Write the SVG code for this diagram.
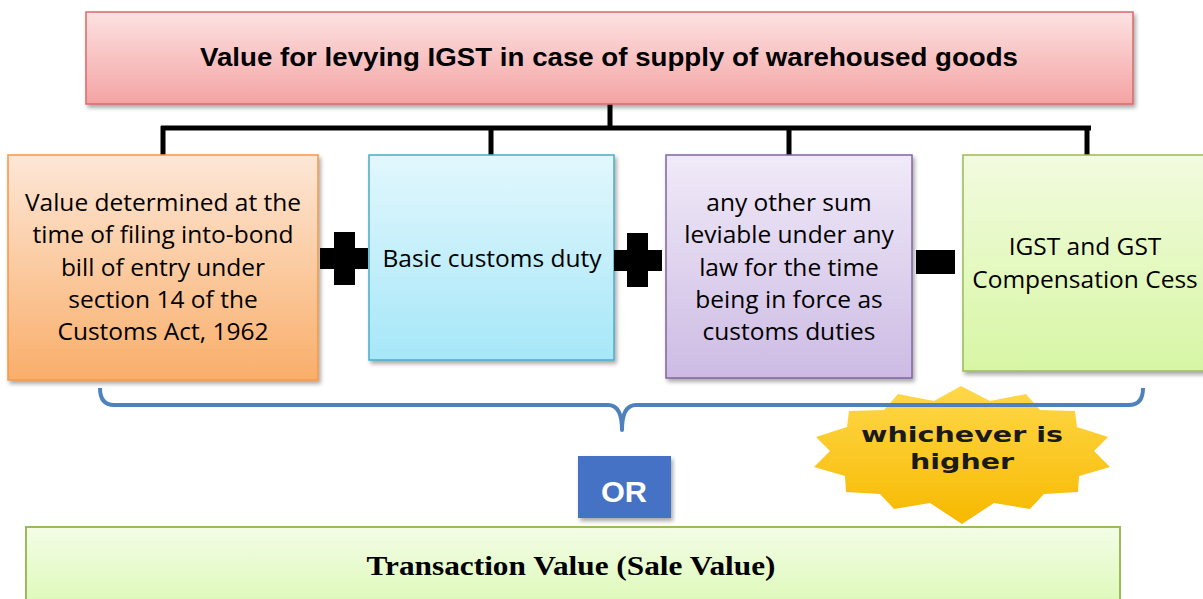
<svg xmlns="http://www.w3.org/2000/svg" width="1203" height="599" viewBox="0 0 1203 599">
<style>
.t{font-family:"Open Sans","Liberation Sans",Arial,sans-serif;font-size:24.5px;fill:#000;text-anchor:middle}
.title{font-family:"Liberation Sans",Arial,sans-serif;font-size:25px;font-weight:bold;fill:#000;text-anchor:middle}
.star{font-family:"DejaVu Sans",Verdana,sans-serif;font-size:22px;font-weight:bold;fill:#1a1a1a;text-anchor:middle}
.or{font-family:"Liberation Sans",Arial,sans-serif;font-size:29px;font-weight:bold;fill:#fff;text-anchor:middle}
.tv{font-family:"Liberation Serif","Times New Roman",serif;font-size:27px;font-weight:bold;fill:#000;text-anchor:middle}
.conn{stroke:#000;stroke-width:5;fill:none}
.op{fill:#000}
</style>
<defs>
<filter id="sh" x="-5%" y="-5%" width="110%" height="115%">
<feDropShadow dx="2" dy="3" stdDeviation="2" flood-color="#000" flood-opacity="0.35"/>
</filter>
<linearGradient id="gRed" x1="0" y1="0" x2="0" y2="1"><stop offset="0" stop-color="#fde2e2"/><stop offset="1" stop-color="#f4a3a3"/></linearGradient>
<linearGradient id="gOr" x1="0" y1="0" x2="0" y2="1"><stop offset="0" stop-color="#fde7d7"/><stop offset="1" stop-color="#f9ae6a"/></linearGradient>
<linearGradient id="gCy" x1="0" y1="0" x2="0" y2="1"><stop offset="0" stop-color="#e2f7fd"/><stop offset="1" stop-color="#a6e7f8"/></linearGradient>
<linearGradient id="gPu" x1="0" y1="0" x2="0" y2="1"><stop offset="0" stop-color="#f0eaf8"/><stop offset="1" stop-color="#cdbbe4"/></linearGradient>
<linearGradient id="gGr" x1="0" y1="0" x2="0" y2="1"><stop offset="0" stop-color="#f2fbdf"/><stop offset="1" stop-color="#d7f6a4"/></linearGradient>
<linearGradient id="gTv" x1="0" y1="0" x2="0" y2="1"><stop offset="0" stop-color="#f3fde6"/><stop offset="1" stop-color="#ddf9b8"/></linearGradient>
<linearGradient id="gSt" x1="0" y1="0" x2="0" y2="1"><stop offset="0" stop-color="#ffd84a"/><stop offset="1" stop-color="#f7b900"/></linearGradient>
</defs>

<g id="connectors">
<path class="conn" d="M610 104 V128 M161 128 H1091 M163 126 V156 M491 126 V156 M789 126 V156 M1087 126 V156"/>
</g>

<g id="title">
<rect x="86" y="12" width="1047" height="92" fill="url(#gRed)" stroke="#d96a6a" stroke-width="1.5" filter="url(#sh)"/>
<text class="title" x="609" y="66" textLength="818" lengthAdjust="spacingAndGlyphs">Value for levying IGST  in case of  supply of warehoused goods</text>
</g>

<g id="box-value">
<rect x="8" y="155" width="310" height="225" fill="url(#gOr)" stroke="#f79646" stroke-width="1.5" filter="url(#sh)"/>
<text class="t" x="163" y="211">Value determined at the</text>
<text class="t" x="163" y="243">time of filing into-bond</text>
<text class="t" x="163" y="276">bill of entry under</text>
<text class="t" x="163" y="308">section 14 of the</text>
<text class="t" x="163" y="340">Customs Act, 1962</text>
</g>

<g id="box-bcd">
<rect x="369" y="155" width="245" height="205" fill="url(#gCy)" stroke="#4bacc6" stroke-width="1.5" filter="url(#sh)"/>
<text class="t" x="492" y="267">Basic customs duty</text>
</g>

<g id="box-other">
<rect x="666" y="155" width="246" height="223" fill="url(#gPu)" stroke="#8064a2" stroke-width="1.5" filter="url(#sh)"/>
<text class="t" x="789" y="211">any other sum</text>
<text class="t" x="789" y="243">leviable under any</text>
<text class="t" x="789" y="276">law for the time</text>
<text class="t" x="789" y="308">being in force as</text>
<text class="t" x="789" y="340">customs duties</text>
</g>

<g id="box-igst">
<rect x="963" y="155" width="250" height="216" fill="url(#gGr)" stroke="#9bbb59" stroke-width="1.5" filter="url(#sh)"/>
<text class="t" x="1085" y="255">IGST and GST</text>
<text class="t" x="1085" y="288">Compensation Cess</text>
</g>

<g id="op-plus1">
<rect class="op" x="320" y="248" width="48" height="21"/>
<rect class="op" x="334" y="232" width="21" height="53"/>
</g>
<g id="op-plus2">
<rect class="op" x="614" y="250" width="48" height="21"/>
<rect class="op" x="627" y="233" width="21" height="54"/>
</g>
<g id="op-minus">
<rect class="op" x="916" y="250" width="39" height="24"/>
</g>

<g id="badge">
<polygon fill="url(#gSt)" points="961,386 990,401 1026,394 1040,410 1075,411 1077,427 1108,437 1094,451 1110,467 1079,476 1078,492 1044,494 1030,509 994,503 962,524 930,503 894,509 880,494 846,492 845,476 814,467 830,451 816,437 847,427 849,411 884,410 898,394 934,401"/>
<text class="star" x="962" y="442" textLength="202" lengthAdjust="spacingAndGlyphs">whichever is</text>
<text class="star" x="962" y="469" textLength="104" lengthAdjust="spacingAndGlyphs">higher</text>
</g>

<g id="bracket">
<path d="M100 388 Q100 405 114 405 H608 Q622 405 622 430 Q622 405 636 405 H1129 Q1143 405 1143 388" fill="none" stroke="#4f81bd" stroke-width="4" stroke-linejoin="round"/>
</g>

<g id="or-box">
<rect x="578" y="456" width="93" height="62" fill="#4472c4" filter="url(#sh)"/>
<text class="or" x="624" y="502" textLength="46" lengthAdjust="spacingAndGlyphs">OR</text>
</g>

<g id="box-tv">
<rect x="26" y="527" width="1094" height="80" fill="url(#gTv)" stroke="#9bbb59" stroke-width="2"/>
<text class="tv" x="571" y="575" textLength="409" lengthAdjust="spacingAndGlyphs">Transaction Value (Sale Value)</text>
</g>
</svg>
